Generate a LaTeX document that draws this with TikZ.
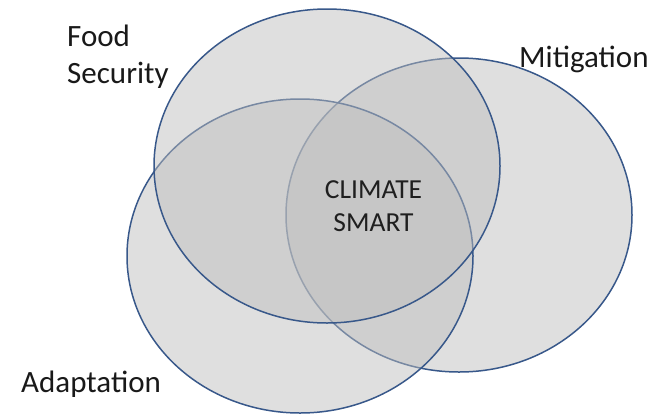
\documentclass[tikz,border=0pt]{standalone}
\usepackage{fontspec}
\setmainfont{Carlito}
\definecolor{vennline}{HTML}{38588A}
\definecolor{vennfill}{HTML}{BDBDBD}
\begin{document}
\begin{tikzpicture}[x=1pt,y=-1pt,
    venn/.style={draw=vennline,line width=1.5pt,fill=vennfill,fill opacity=.48},
    setname/.style={font=\fontsize{31}{37}\selectfont,text=black!90,inner sep=0pt,align=left}]
  \path[use as bounding box] (0,0) rectangle (666,413);
  \path[venn] (459,215) coordinate (mit) ellipse [x radius=173pt,y radius=157pt];
  \path[venn] (300,256) coordinate (ada) ellipse [x radius=173pt,y radius=157pt];
  \path[venn] (327,166) coordinate (food) ellipse [x radius=173pt,y radius=157pt];
  \node[setname,anchor=west] at (67,56.5) (foodlbl) {Food\\Security};
  \node[setname,anchor=base west] at (519,67) (mitlbl) {Mitigation};
  \node[setname,anchor=base west] at (21,392) (adalbl) {Adaptation};
  \node[font=\fontsize{27.5}{33}\selectfont,text=black!88,inner sep=0pt,align=center] at (373.5,206) (smart) {CLIMATE\\SMART};
\end{tikzpicture}
\end{document}
